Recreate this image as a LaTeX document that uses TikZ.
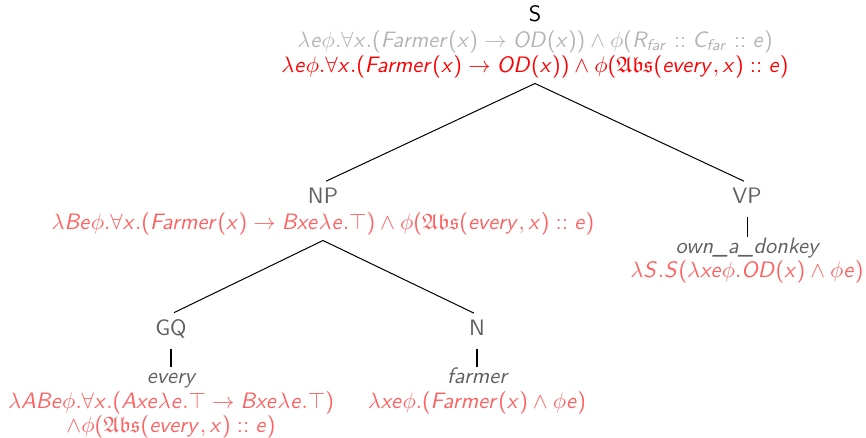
\documentclass[tikz,border=0pt]{standalone}
\usepackage{fix-cm}
\usepackage{amsmath}
\usepackage{amssymb}
\usepackage{tikz}
\usetikzlibrary{positioning}
\definecolor{catgray}{RGB}{96,96,96}
\definecolor{oldgray}{RGB}{180,180,180}
\definecolor{newred}{RGB}{255,0,0}
\definecolor{semred}{RGB}{255,96,96}
% sans serif letters in math, as on the slides
\SetSymbolFont{operators}{normal}{OT1}{cmss}{m}{n}
\DeclareSymbolFont{sfitletters}{OT1}{cmss}{m}{sl}
\newcount\lettercnt
\lettercnt=65
\loop
  \mathcode\lettercnt=\numexpr "7000+\symsfitletters*256+\lettercnt\relax
  \advance\lettercnt by 1
\ifnum\lettercnt<91 \repeat
\lettercnt=97
\loop
  \mathcode\lettercnt=\numexpr "7000+\symsfitletters*256+\lettercnt\relax
  \advance\lettercnt by 1
\ifnum\lettercnt<123 \repeat
\newcommand{\Abs}{\mathfrak{Abs}}

\begin{document}
\begin{tikzpicture}[
    x=0.01575cm, y=-0.01575cm,
    every node/.style={font=\sffamily, inner sep=2pt},
    cat/.style={anchor=base, text=catgray, text depth=0pt},
    word/.style={anchor=base, text=catgray, font=\sffamily\itshape, text height=1.2ex},
    sem/.style={anchor=base, text=semred},
    branch/.style={line width=0.45pt, shorten >=1.5pt},
    stem/.style={line width=0.45pt, shorten <=4pt}
  ]
  \useasboundingbox (0,0) rectangle (866,438);

  % root S
  \node[cat, text=black] (s) at (535,22) {S};
  \node[anchor=base, text=oldgray] (sold) at (535,47)
    {$\lambda e\phi.\forall x.(Farmer(x) \rightarrow OD(x)) \wedge \phi(R_{far} :: C_{far} :: e)$};
  \node[anchor=base, text=newred] (snew) at (535,73)
    {$\lambda e\phi.\forall x.(Farmer(x) \rightarrow OD(x)) \wedge \phi(\Abs(every, x) :: e)$};

  % NP
  \node[cat] (np) at (323,203) {NP};
  \node[sem] (npsem) at (323,230)
    {$\lambda Be\phi.\forall x.(Farmer(x) \rightarrow Bxe\lambda e.\top) \wedge \phi(\Abs(every, x) :: e)$};

  % VP
  \node[cat] (vp) at (747,203) {VP};
  \node[word] (own) at (747,253) {own\_a\_donkey};
  \node[sem] (vpsem) at (747,277)
    {$\lambda S.S(\lambda xe\phi.OD(x) \wedge \phi e)$};

  % GQ
  \node[cat] (gq) at (171,335) {GQ};
  \node[word] (every) at (171,383) {every};
  \node[sem] (gqsem) at (171,408)
    {$\lambda ABe\phi.\forall x.(Axe\lambda e.\top \rightarrow Bxe\lambda e.\top)$};
  \node[sem] (gqsemb) at (171,432)
    {$\wedge\phi(\Abs(every, x) :: e)$};

  % N
  \node[cat] (n) at (477,335) {N};
  \node[word] (farmer) at (477,383) {farmer};
  \node[sem] (nsem) at (477,408)
    {$\lambda xe\phi.(Farmer(x) \wedge \phi e)$};

  % branches
  \draw[branch] (snew.south) -- (np.north);
  \draw[branch] (snew.south) -- (vp.north);
  \draw[branch] (npsem.south) -- (gq.north);
  \draw[branch] (npsem.south) -- (n.north);
  \draw[stem] (vp.south) -- (own.north);
  \draw[stem] (gq.south) -- (every.north);
  \draw[stem] (n.south) -- (farmer.north);
\end{tikzpicture}
\end{document}
